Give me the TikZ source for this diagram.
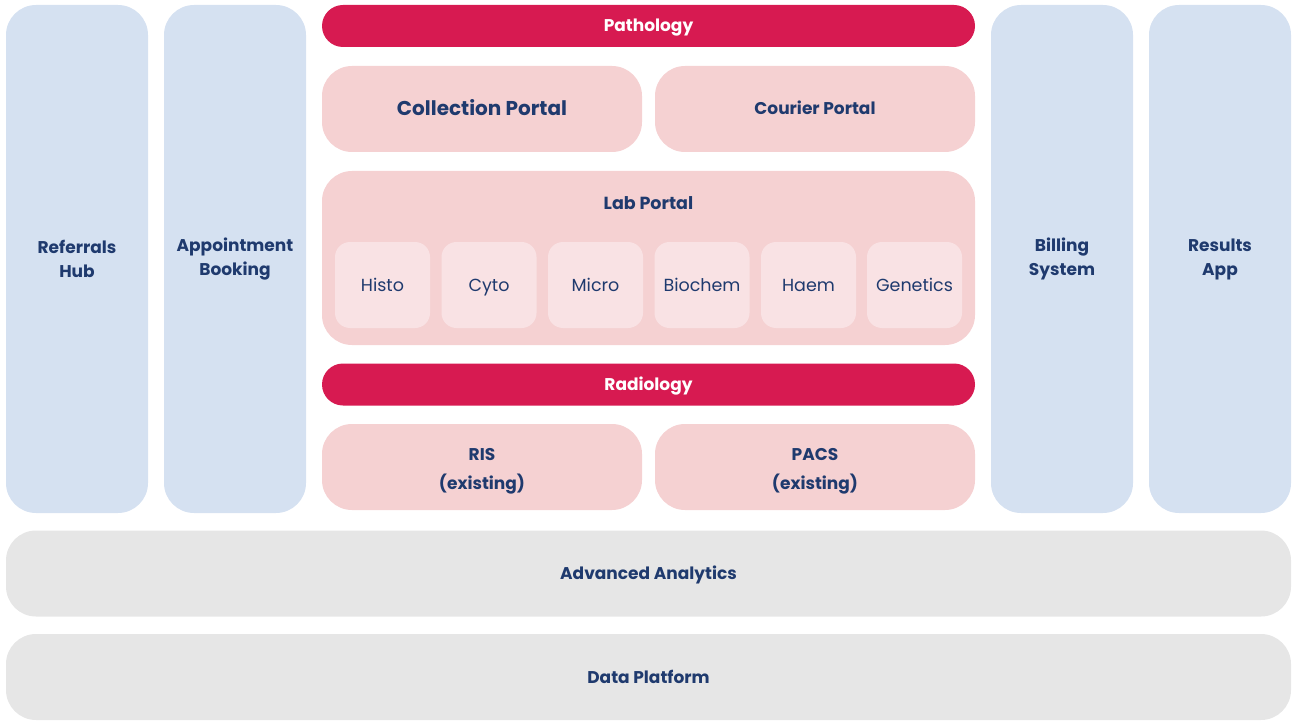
\documentclass[tikz,border=0pt]{standalone}
\usepackage{xcolor}
\usepackage{fontspec}
\setmainfont{Poppins}
\usetikzlibrary{positioning}

\definecolor{sideBlue}{HTML}{D5E1F1}
\definecolor{portalPink}{HTML}{F5D1D2}
\definecolor{labPink}{HTML}{F9E2E4}
\definecolor{headRed}{HTML}{D71A51}
\definecolor{baseGray}{HTML}{E6E6E6}
\definecolor{labelNavy}{HTML}{1F3A6E}

\tikzset{
  tile/.style={inner sep=0pt, align=center, text=labelNavy,
    font=\bfseries\fontsize{17}{24}\selectfont},
  oneline/.style={text height=12pt, text depth=0pt},
  column/.style={tile, fill=sideBlue, rounded corners=30pt,
    minimum width=142pt, minimum height=508pt},
  header/.style={tile, oneline, fill=headRed, text=white, rounded corners=21pt,
    minimum width=653pt, minimum height=42pt},
  portal/.style={tile, fill=portalPink, rounded corners=30pt,
    minimum width=320pt, minimum height=86pt},
  unit/.style={tile, oneline, fill=labPink, rounded corners=15pt,
    minimum width=95pt, minimum height=86pt, font=\fontsize{17.5}{20}\selectfont},
  layer/.style={tile, oneline, fill=baseGray, rounded corners=30pt,
    minimum width=1285pt, minimum height=86pt}
}

\begin{document}
\begin{tikzpicture}[x=1pt, y=-1pt]
    \useasboundingbox (0,0) rectangle (1292,722);

    % Side columns
    \node[column] (referrals) at (77,259) {Referrals\\Hub};
    \node[column] (booking) at (235,259) {Appointment\\Booking};
    \node[column] (billing) at (1062,259) {Billing\\System};
    \node[column] (results) at (1220,259) {Results\\App};

    % Pathology
    \node[header] (pathology) at (648.5,26) {Pathology};
    \node[portal, oneline, text height=14pt, font=\bfseries\fontsize{20}{24}\selectfont] (collection) at (482,109) {Collection Portal};
    \node[portal, oneline] (courier) at (815,109) {Courier Portal};

    % Lab portal with its departments
    \node[portal, minimum width=653pt, minimum height=174pt] (lab) at (648.5,258) {};
    \node[tile, oneline, font=\bfseries\fontsize{17.5}{24}\selectfont] (labtitle) at (648.5,203) {Lab Portal};
    \foreach \name/\xpos/\dept in {histo/382.5/Histo, cyto/489/Cyto, micro/595.5/Micro,
        biochem/702/Biochem, haem/808.5/Haem, genetics/914.5/Genetics}
        \node[unit] (\name) at (\xpos,285) {\dept};

    % Radiology
    \node[header] (radiology) at (648.5,384.5) {Radiology};
    \node[portal] (ris) at (482,467) {};
    \node[portal] (pacs) at (815,467) {};
    \node[tile, font=\bfseries\fontsize{17}{29}\selectfont, yshift=-4pt] (ristext) at (ris.center) {RIS\\(existing)};
    \node[tile, font=\bfseries\fontsize{17}{29}\selectfont, yshift=-4pt] (pacstext) at (pacs.center) {PACS\\(existing)};

    % Shared layers
    \node[layer] (analytics) at (648.5,573.5) {Advanced Analytics};
    \node[layer] (platform) at (648.5,677) {Data Platform};
\end{tikzpicture}
\end{document}
